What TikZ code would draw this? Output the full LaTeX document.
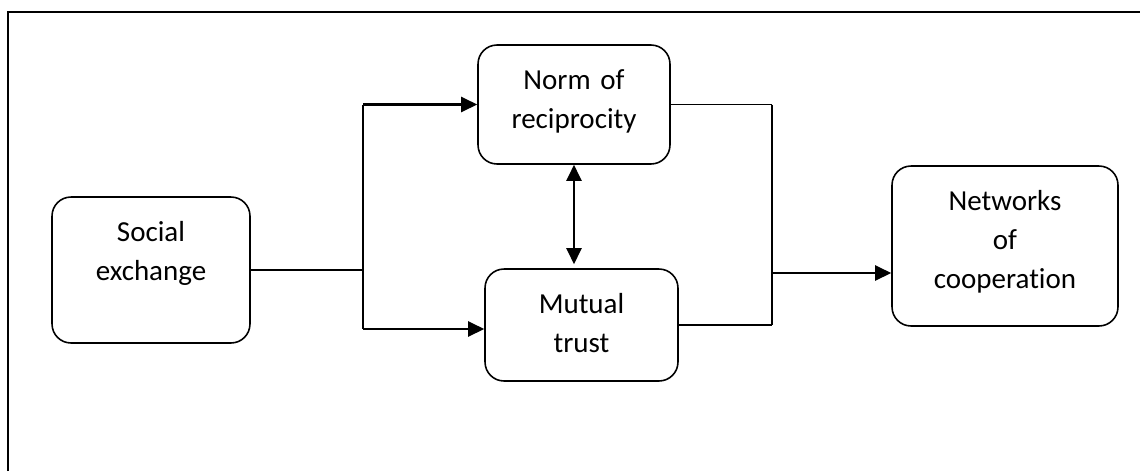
\documentclass[tikz,border=0pt]{standalone}
\usepackage{fontspec}
\setmainfont[Ligatures=NoCommon]{Carlito}
\usetikzlibrary{arrows.meta}

\begin{document}
\begin{tikzpicture}[x=0.02cm, y=-0.02cm, >={Triangle[length=0.32cm,width=0.3cm]},
    box/.style={draw, line width=0.9pt, rounded corners=0.38cm, inner sep=0pt, align=center,
                text height=0.88cm, font=\fontsize{16.5}{22.2}\selectfont},
    line/.style={line width=0.6pt},
    arr/.style={line width=1.2pt}]
            \useasboundingbox (0,0) rectangle (1140,471);
            % frame
            \draw[line] (8,471) -- (8,12) -- (1140,12);

            \node[box, text width=3.96cm, text depth=2.04cm] (soc)  at (151,270)   {Social\\exchange};
            \node[box, text width=3.84cm, text depth=1.50cm] (norm) at (574,104.5) {Norm of\\reciprocity};
            \node[box, text width=3.86cm, text depth=1.36cm] (mut)  at (581.5,325) {Mutual\\trust};
            \node[box, text width=4.52cm, text depth=2.32cm] (net)  at (1005,246)  {Networks\\of\\cooperation};

            \coordinate (split)  at (363,270);
            \coordinate (splitT) at (363,104.5);
            \coordinate (splitB) at (363,329);
            \coordinate (joinT)  at (772,104.5);
            \coordinate (joinB)  at (772,325);
            \coordinate (joinM)  at (772,273);

            \draw[line] (soc) -- (split)
                        (splitT) -- (splitB)
                        (norm) -- (joinT)
                        (mut) -- (joinB)
                        (joinT) -- (joinB);
            \draw[arr]
                        (splitT) edge[->] (norm)
                        (splitB) edge[->] (mut.west |- splitB)
                        (joinM) edge[->] (net.west |- joinM);
            \draw[arr, <->] (norm.south) -- ([yshift=0.08cm]norm.south |- mut.north);
\end{tikzpicture}
\end{document}
